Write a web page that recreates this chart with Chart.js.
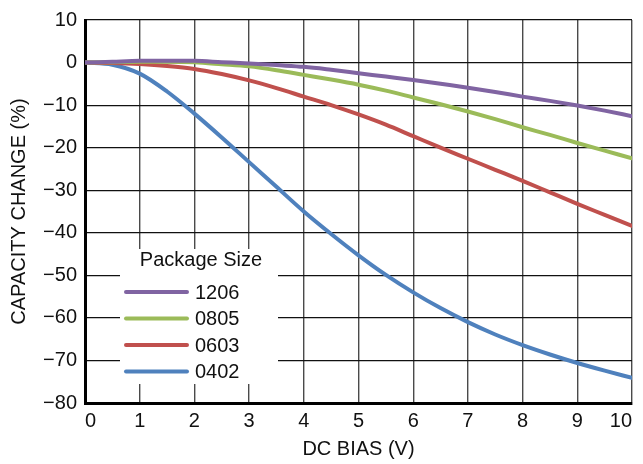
<!DOCTYPE html>
<html>
<head>
<meta charset="utf-8">
<script src="https://cdn.jsdelivr.net/npm/chart.js@4.4.1/dist/chart.umd.min.js"></script>
<style>
  html, body { margin: 0; padding: 0; background: #fff; }
  #wrap { width: 643px; height: 464px; }
</style>
</head>
<body>
<div id="wrap"><canvas id="chart"></canvas></div>
<script>
// DC bias (V) and capacity change (%) per package size
const biasV = [0, 0.5, 1, 1.5, 2, 2.5, 3, 3.5, 4, 4.5, 5, 5.5, 6, 6.5, 7, 7.5, 8, 8.5, 9, 9.5, 10];
const cap1206 = [0, 0.2, 0.4, 0.45, 0.4, 0.1, -0.2, -0.6, -1.0, -1.7, -2.5, -3.3, -4.1, -5.0, -5.9, -6.9, -8.0, -9.0, -10.1, -11.3, -12.6];
const cap0805 = [0, 0.1, 0.2, 0.2, 0.05, -0.4, -0.9, -1.8, -2.9, -4.0, -5.2, -6.6, -8.2, -9.8, -11.5, -13.3, -15.2, -17.0, -18.9, -20.7, -22.5];
const cap0603 = [0, -0.1, -0.35, -0.8, -1.5, -2.7, -4.2, -6.0, -8.0, -10.0, -12.2, -14.6, -17.3, -20.0, -22.6, -25.2, -27.8, -30.5, -33.2, -35.8, -38.4];
const cap0402 = [0, -0.5, -2.6, -6.8, -12.0, -17.6, -23.4, -29.2, -35.0, -40.3, -45.3, -49.9, -54.0, -57.7, -61.0, -63.9, -66.4, -68.6, -70.6, -72.4, -74.1];

const seriesLabels = ['1206', '0805', '0603', '0402'];
const seriesColors = ['#8064A2', '#9BBB59', '#C0504D', '#4F81BD'];
const legendTitle = 'Package Size';

const FONT = "'Liberation Sans', Arial, sans-serif";

const toPoints = vals => vals.map((v, i) => ({ x: biasV[i], y: v }));

// boxed legend inside the plot, like the original datasheet figure
const boxLegendPlugin = {
  id: 'boxLegend',
  afterDatasetsDraw(chart) {
    const { ctx, data } = chart;
    const left = 120, top = 249, width = 158, height = 135;
    ctx.save();
    ctx.fillStyle = '#fff';
    ctx.fillRect(left, top, width, height);
    ctx.fillStyle = '#111';
    ctx.font = `20px ${FONT}`;
    ctx.textBaseline = 'middle';
    ctx.textAlign = 'center';
    ctx.fillText(legendTitle, left + 81, top + 11);
    ctx.textAlign = 'left';
    data.datasets.forEach((ds, i) => {
      const y = top + 43 + i * 26.5;
      ctx.strokeStyle = ds.borderColor;
      ctx.lineWidth = 4;
      ctx.lineCap = 'round';
      ctx.beginPath();
      ctx.moveTo(left + 6, y);
      ctx.lineTo(left + 67, y);
      ctx.stroke();
      ctx.fillStyle = '#111';
      ctx.fillText(ds.label, left + 75, y + 1);
    });
    ctx.restore();
  }
};

new Chart(document.getElementById('chart'), {
  type: 'line',
  plugins: [boxLegendPlugin],
  data: {
    datasets: [cap1206, cap0805, cap0603, cap0402].map((vals, i) => ({
      label: seriesLabels[i],
      data: toPoints(vals),
      borderColor: seriesColors[i],
      backgroundColor: seriesColors[i],
      borderWidth: 4,
      pointRadius: 0,
      cubicInterpolationMode: 'monotone',
      borderCapStyle: 'round',
      fill: false,
    })),
  },
  options: {
    responsive: true,
    maintainAspectRatio: false,
    animation: false,
    layout: { padding: { top: 18, right: 11, left: 0, bottom: 0 } },
    plugins: {
      legend: { display: false },
      tooltip: { enabled: false },
    },
    scales: {
      x: {
        type: 'linear',
        min: 0,
        max: 10,
        afterFit: scale => { scale.height = 61; },
        ticks: {
          stepSize: 1,
          align: 'inner',
          padding: 6,
          color: '#111',
          font: { family: FONT, size: 20 },
        },
        grid: { color: '#4a4a4a', lineWidth: 1.4, drawTicks: false },
        border: { color: '#000', width: 3 },
        title: {
          display: true,
          text: 'DC BIAS (V)',
          color: '#111',
          font: { family: FONT, size: 20 },
          padding: { top: 0, bottom: 3 },
        },
      },
      y: {
        min: -80,
        max: 10,
        afterFit: scale => { scale.width = 85; },
        ticks: {
          stepSize: 10,
          padding: 8,
          color: '#111',
          font: { family: FONT, size: 20 },
          callback: v => (v < 0 ? '\u2212' + Math.abs(v) : String(v)),
        },
        grid: { color: '#111', lineWidth: 1.2, drawTicks: false },
        border: { color: '#000', width: 3 },
        title: {
          display: true,
          text: 'CAPACITY CHANGE (%)',
          color: '#111',
          font: { family: FONT, size: 20 },
          padding: { top: 7, bottom: 0 },
        },
      },
    },
  },
});
</script>
</body>
</html>
